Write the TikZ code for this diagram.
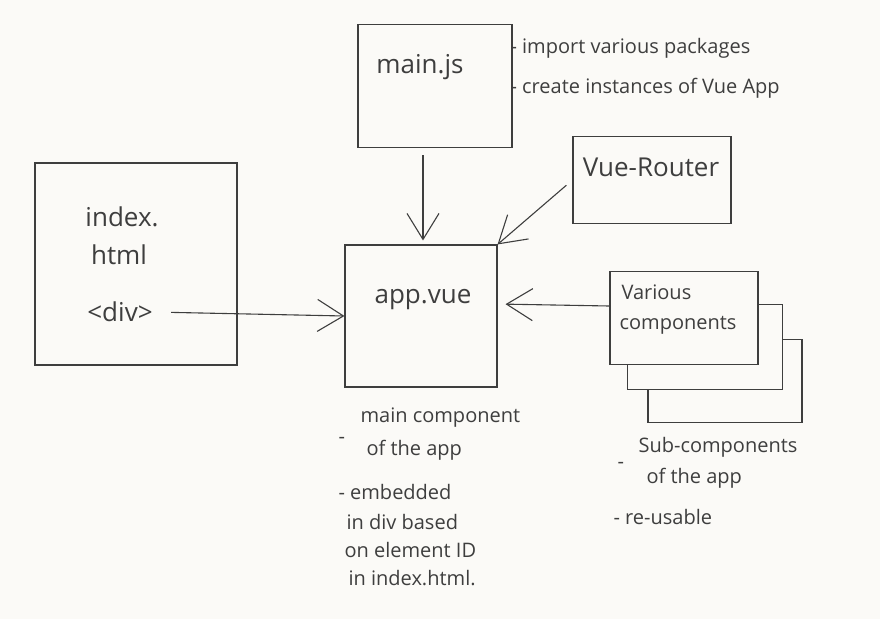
\documentclass[tikz,border=0pt]{standalone}
\usepackage{fontspec}
\setmainfont{Open Sans}
\usetikzlibrary{arrows.meta}
\definecolor{paper}{RGB}{251,250,247}
\definecolor{ink}{RGB}{62,62,62}
\begin{document}
\begin{tikzpicture}
[x=1pt,y=-1pt,color=ink,line width=1.1pt,%
  every node/.style={text=ink,inner sep=0pt},%
  box/.style={draw=ink,fill=paper,line width=1.1pt,shape=rectangle},%
  arr/.style={-{Straight Barb[length=26pt,width=32pt]},line width=1.1pt},%
  big/.style={font=\fontsize{26}{30}\selectfont},%
  comptext/.style={anchor=west,font=\fontsize{20}{24}\selectfont},%
  note/.style={anchor=west,font=\fontsize{20}{24}\selectfont}]
\fill[paper] (0,0) rectangle (880,619);
\node[box,minimum width=202pt,minimum height=202pt] (index) at (136,264) {};
\node[big] (indextxt) at (122,217) {index.};
\node[big] (html) at (119,255) {html};
\node[big] (div) at (120,312) {<div>};
\node[box,minimum width=154pt,minimum height=123pt] (mainjs) at (435,86) {};
\node[big] (mainjstxt) at (420,67) {main.js};
\node[note] (pkg) at (510,48) {- import various packages};
\node[note] (inst) at (510,88) {- create instances of Vue App};
\node[box,minimum width=158pt,minimum height=87pt] (router) at (652,180) {};
\node[big] (routertxt) at (651,167) {Vue-Router};
\node[box,minimum width=152pt,minimum height=142pt] (app) at (421,316) {};
\node[big] (apptxt) at (423,300) {app.vue};
\node[box,minimum width=154pt,minimum height=83pt] (comp3) at (725,381) {};
\node[box,minimum width=155pt,minimum height=85pt] (comp2) at (705,347) {};
\node[box,minimum width=148pt,minimum height=93pt] (comp1) at (684,318) {};
\node[comptext] (various) at (621,292) {Various};
\node[comptext] (components) at (619,325) {components};
\node[note] (dashmain) at (338,440) {-};
\node[note] (maincomp) at (360,418) {main component};
\node[note] (ofapp) at (366,450) {of the app};
\node[note] (embedded) at (338,492) {- embedded};
\node[note] (indiv) at (346,522) {in div based};
\node[note] (elemid) at (344,550) {on element ID};
\node[note] (inindex) at (348,578) {in index.html.};
\node[note] (dashsub) at (617,465) {-};
\node[note] (subcomp) at (638,447) {Sub-components};
\node[note] (ofappsub) at (646,478) {of the app};
\node[note] (reuse) at (613,517) {- re-usable};
\draw[arr,shorten <=18pt] (div.east) -- (app.west);
\draw[arr,shorten <=7pt,shorten >=4pt] (mainjs.south -| apptxt) -- (app.north -| apptxt);
\draw[arr,shorten <=8pt] (router.west) -- (app.north east);
\draw[arr,shorten >=8pt] ([yshift=12pt]comp1.west) -- ([yshift=12pt]app.east);
\end{tikzpicture}
\end{document}
